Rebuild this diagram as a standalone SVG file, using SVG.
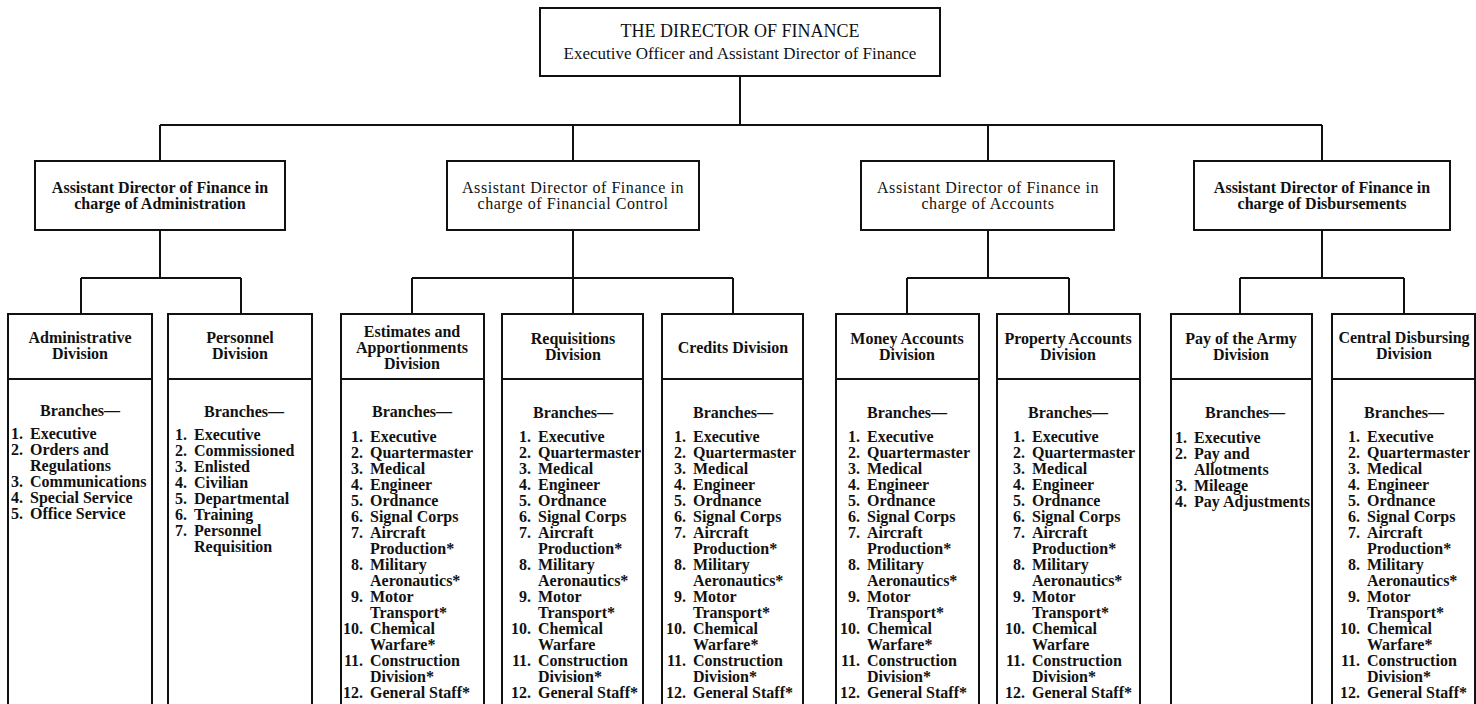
<svg xmlns="http://www.w3.org/2000/svg" width="1476" height="704" viewBox="0 0 1476 704">
  <style>
    .box { fill: #ffffff; stroke: #111111; stroke-width: 2; }
    .rule { stroke: #111111; stroke-width: 2; }
    .wire { fill: none; stroke: #111111; stroke-width: 2; }
    text { font-family: "Liberation Serif", "Times New Roman", serif; fill: #111111; }
    .title { font-size: 18px; text-anchor: middle; }
    .sub { font-size: 17px; text-anchor: middle; }
    .asb { font-size: 16px; font-weight: bold; text-anchor: middle; }
    .asr { font-size: 16px; letter-spacing: 0.55px; text-anchor: middle; }
    .hd { font-size: 16px; font-weight: bold; text-anchor: middle; }
    .num { font-size: 16px; font-weight: bold; text-anchor: end; }
    .it { font-size: 16px; font-weight: bold; }
  </style>
  <rect width="1476" height="704" fill="#ffffff"/>

  <!-- connectors -->
  <g id="connectors">
    <path class="wire" d="M740 76 V125 M160 125 H1322 M160 125 V161 M573 125 V161 M988 125 V161 M1322 125 V160"/>
    <path class="wire" d="M160 230 V278 M81 278 H241 M81 278 V314 M241 278 V314"/>
    <path class="wire" d="M573 230 V278 M412 278 H733 M412 278 V314 M573 278 V314 M733 278 V314"/>
    <path class="wire" d="M988 230 V278 M907 278 H1069 M907 278 V314 M1069 278 V314"/>
    <path class="wire" d="M1322 230 V278 M1240 278 H1404 M1240 278 V314 M1404 278 V314"/>
  </g>

  <!-- top office -->
  <g id="director">
    <rect class="box" x="540" y="8" width="400" height="68"/>
    <text class="title" x="740" y="37">THE DIRECTOR OF FINANCE</text>
    <text class="sub" x="740" y="59">Executive Officer and Assistant Director of Finance</text>
  </g>

  <!-- assistant directors -->
  <g id="asst-administration">
    <rect class="box" x="35" y="161" width="250" height="69"/>
    <text class="asb" x="160" y="193">Assistant Director of Finance in</text>
    <text class="asb" x="160" y="209">charge of Administration</text>
  </g>
  <g id="asst-financial-control">
    <rect class="box" x="447" y="161" width="252" height="69"/>
    <text class="asr" x="573" y="193">Assistant Director of Finance in</text>
    <text class="asr" x="573" y="209">charge of Financial Control</text>
  </g>
  <g id="asst-accounts">
    <rect class="box" x="861" y="161" width="253" height="69"/>
    <text class="asr" x="988" y="193">Assistant Director of Finance in</text>
    <text class="asr" x="988" y="209">charge of Accounts</text>
  </g>
  <g id="asst-disbursements">
    <rect class="box" x="1194" y="161" width="256" height="69"/>
    <text class="asb" x="1322" y="193">Assistant Director of Finance in</text>
    <text class="asb" x="1322" y="209">charge of Disbursements</text>
  </g>

  <!-- divisions -->
  <g id="div-administrative">
    <rect class="box" x="8" y="314" width="144" height="410"/>
    <line class="rule" x1="8" y1="379" x2="152" y2="379"/>
    <text class="hd" x="80" y="343">Administrative</text>
    <text class="hd" x="80" y="359">Division</text>
    <text class="hd" x="80" y="416">Branches—</text>
    <g transform="translate(30,0)">
      <text class="num"><tspan x="-7" y="439">1.</tspan><tspan x="-7" y="455">2.</tspan><tspan x="-7" y="487">3.</tspan><tspan x="-7" y="503">4.</tspan><tspan x="-7" y="519">5.</tspan></text>
      <text class="it"><tspan x="0" y="439">Executive</tspan><tspan x="0" y="455">Orders and</tspan><tspan x="0" y="471">Regulations</tspan><tspan x="0" y="487">Communications</tspan><tspan x="0" y="503">Special Service</tspan><tspan x="0" y="519">Office Service</tspan></text>
    </g>
  </g>

  <g id="div-personnel">
    <rect class="box" x="168" y="314" width="144" height="410"/>
    <line class="rule" x1="168" y1="379" x2="312" y2="379"/>
    <text class="hd" x="240" y="343">Personnel</text>
    <text class="hd" x="240" y="359">Division</text>
    <text class="hd" x="244" y="417">Branches—</text>
    <g transform="translate(194,0)">
      <text class="num"><tspan x="-7" y="440">1.</tspan><tspan x="-7" y="456">2.</tspan><tspan x="-7" y="472">3.</tspan><tspan x="-7" y="488">4.</tspan><tspan x="-7" y="504">5.</tspan><tspan x="-7" y="520">6.</tspan><tspan x="-7" y="536">7.</tspan></text>
      <text class="it"><tspan x="0" y="440">Executive</tspan><tspan x="0" y="456">Commissioned</tspan><tspan x="0" y="472">Enlisted</tspan><tspan x="0" y="488">Civilian</tspan><tspan x="0" y="504">Departmental</tspan><tspan x="0" y="520">Training</tspan><tspan x="0" y="536">Personnel</tspan><tspan x="0" y="552">Requisition</tspan></text>
    </g>
  </g>

  <g id="div-estimates">
    <rect class="box" x="341" y="314" width="143" height="410"/>
    <line class="rule" x1="341" y1="379" x2="484" y2="379"/>
    <text class="hd" x="412" y="337">Estimates and</text>
    <text class="hd" x="412" y="353">Apportionments</text>
    <text class="hd" x="412" y="369">Division</text>
    <text class="hd" x="412" y="417">Branches—</text>
    <g transform="translate(370,0)">
      <text class="num"><tspan x="-7" y="442">1.</tspan><tspan x="-7" y="458">2.</tspan><tspan x="-7" y="474">3.</tspan><tspan x="-7" y="490">4.</tspan><tspan x="-7" y="506">5.</tspan><tspan x="-7" y="522">6.</tspan><tspan x="-7" y="538">7.</tspan><tspan x="-7" y="570">8.</tspan><tspan x="-7" y="602">9.</tspan><tspan x="-7" y="634">10.</tspan><tspan x="-7" y="666">11.</tspan><tspan x="-7" y="698">12.</tspan></text>
      <text class="it"><tspan x="0" y="442">Executive</tspan><tspan x="0" y="458">Quartermaster</tspan><tspan x="0" y="474">Medical</tspan><tspan x="0" y="490">Engineer</tspan><tspan x="0" y="506">Ordnance</tspan><tspan x="0" y="522">Signal Corps</tspan><tspan x="0" y="538">Aircraft</tspan><tspan x="0" y="554">Production*</tspan><tspan x="0" y="570">Military</tspan><tspan x="0" y="586">Aeronautics*</tspan><tspan x="0" y="602">Motor</tspan><tspan x="0" y="618">Transport*</tspan><tspan x="0" y="634">Chemical</tspan><tspan x="0" y="650">Warfare*</tspan><tspan x="0" y="666">Construction</tspan><tspan x="0" y="682">Division*</tspan><tspan x="0" y="698">General Staff*</tspan></text>
    </g>
  </g>

  <g id="div-requisitions">
    <rect class="box" x="502" y="314" width="141" height="410"/>
    <line class="rule" x1="502" y1="379" x2="643" y2="379"/>
    <text class="hd" x="573" y="344">Requisitions</text>
    <text class="hd" x="573" y="360">Division</text>
    <text class="hd" x="573" y="418">Branches—</text>
    <g transform="translate(538,0)">
      <text class="num"><tspan x="-7" y="442">1.</tspan><tspan x="-7" y="458">2.</tspan><tspan x="-7" y="474">3.</tspan><tspan x="-7" y="490">4.</tspan><tspan x="-7" y="506">5.</tspan><tspan x="-7" y="522">6.</tspan><tspan x="-7" y="538">7.</tspan><tspan x="-7" y="570">8.</tspan><tspan x="-7" y="602">9.</tspan><tspan x="-7" y="634">10.</tspan><tspan x="-7" y="666">11.</tspan><tspan x="-7" y="698">12.</tspan></text>
      <text class="it"><tspan x="0" y="442">Executive</tspan><tspan x="0" y="458">Quartermaster</tspan><tspan x="0" y="474">Medical</tspan><tspan x="0" y="490">Engineer</tspan><tspan x="0" y="506">Ordnance</tspan><tspan x="0" y="522">Signal Corps</tspan><tspan x="0" y="538">Aircraft</tspan><tspan x="0" y="554">Production*</tspan><tspan x="0" y="570">Military</tspan><tspan x="0" y="586">Aeronautics*</tspan><tspan x="0" y="602">Motor</tspan><tspan x="0" y="618">Transport*</tspan><tspan x="0" y="634">Chemical</tspan><tspan x="0" y="650">Warfare</tspan><tspan x="0" y="666">Construction</tspan><tspan x="0" y="682">Division*</tspan><tspan x="0" y="698">General Staff*</tspan></text>
    </g>
  </g>

  <g id="div-credits">
    <rect class="box" x="662" y="314" width="141" height="410"/>
    <line class="rule" x1="662" y1="379" x2="803" y2="379"/>
    <text class="hd" x="733" y="353">Credits Division</text>
    <text class="hd" x="733" y="418">Branches—</text>
    <g transform="translate(693,0)">
      <text class="num"><tspan x="-7" y="442">1.</tspan><tspan x="-7" y="458">2.</tspan><tspan x="-7" y="474">3.</tspan><tspan x="-7" y="490">4.</tspan><tspan x="-7" y="506">5.</tspan><tspan x="-7" y="522">6.</tspan><tspan x="-7" y="538">7.</tspan><tspan x="-7" y="570">8.</tspan><tspan x="-7" y="602">9.</tspan><tspan x="-7" y="634">10.</tspan><tspan x="-7" y="666">11.</tspan><tspan x="-7" y="698">12.</tspan></text>
      <text class="it"><tspan x="0" y="442">Executive</tspan><tspan x="0" y="458">Quartermaster</tspan><tspan x="0" y="474">Medical</tspan><tspan x="0" y="490">Engineer</tspan><tspan x="0" y="506">Ordnance</tspan><tspan x="0" y="522">Signal Corps</tspan><tspan x="0" y="538">Aircraft</tspan><tspan x="0" y="554">Production*</tspan><tspan x="0" y="570">Military</tspan><tspan x="0" y="586">Aeronautics*</tspan><tspan x="0" y="602">Motor</tspan><tspan x="0" y="618">Transport*</tspan><tspan x="0" y="634">Chemical</tspan><tspan x="0" y="650">Warfare*</tspan><tspan x="0" y="666">Construction</tspan><tspan x="0" y="682">Division*</tspan><tspan x="0" y="698">General Staff*</tspan></text>
    </g>
  </g>

  <g id="div-money-accounts">
    <rect class="box" x="836" y="314" width="143" height="410"/>
    <line class="rule" x1="836" y1="379" x2="979" y2="379"/>
    <text class="hd" x="907" y="344">Money Accounts</text>
    <text class="hd" x="907" y="360">Division</text>
    <text class="hd" x="907" y="418">Branches—</text>
    <g transform="translate(867,0)">
      <text class="num"><tspan x="-7" y="442">1.</tspan><tspan x="-7" y="458">2.</tspan><tspan x="-7" y="474">3.</tspan><tspan x="-7" y="490">4.</tspan><tspan x="-7" y="506">5.</tspan><tspan x="-7" y="522">6.</tspan><tspan x="-7" y="538">7.</tspan><tspan x="-7" y="570">8.</tspan><tspan x="-7" y="602">9.</tspan><tspan x="-7" y="634">10.</tspan><tspan x="-7" y="666">11.</tspan><tspan x="-7" y="698">12.</tspan></text>
      <text class="it"><tspan x="0" y="442">Executive</tspan><tspan x="0" y="458">Quartermaster</tspan><tspan x="0" y="474">Medical</tspan><tspan x="0" y="490">Engineer</tspan><tspan x="0" y="506">Ordnance</tspan><tspan x="0" y="522">Signal Corps</tspan><tspan x="0" y="538">Aircraft</tspan><tspan x="0" y="554">Production*</tspan><tspan x="0" y="570">Military</tspan><tspan x="0" y="586">Aeronautics*</tspan><tspan x="0" y="602">Motor</tspan><tspan x="0" y="618">Transport*</tspan><tspan x="0" y="634">Chemical</tspan><tspan x="0" y="650">Warfare*</tspan><tspan x="0" y="666">Construction</tspan><tspan x="0" y="682">Division*</tspan><tspan x="0" y="698">General Staff*</tspan></text>
    </g>
  </g>

  <g id="div-property-accounts">
    <rect class="box" x="997" y="314" width="143" height="410"/>
    <line class="rule" x1="997" y1="379" x2="1140" y2="379"/>
    <text class="hd" x="1068" y="344">Property Accounts</text>
    <text class="hd" x="1068" y="360">Division</text>
    <text class="hd" x="1068" y="418">Branches—</text>
    <g transform="translate(1032,0)">
      <text class="num"><tspan x="-7" y="442">1.</tspan><tspan x="-7" y="458">2.</tspan><tspan x="-7" y="474">3.</tspan><tspan x="-7" y="490">4.</tspan><tspan x="-7" y="506">5.</tspan><tspan x="-7" y="522">6.</tspan><tspan x="-7" y="538">7.</tspan><tspan x="-7" y="570">8.</tspan><tspan x="-7" y="602">9.</tspan><tspan x="-7" y="634">10.</tspan><tspan x="-7" y="666">11.</tspan><tspan x="-7" y="698">12.</tspan></text>
      <text class="it"><tspan x="0" y="442">Executive</tspan><tspan x="0" y="458">Quartermaster</tspan><tspan x="0" y="474">Medical</tspan><tspan x="0" y="490">Engineer</tspan><tspan x="0" y="506">Ordnance</tspan><tspan x="0" y="522">Signal Corps</tspan><tspan x="0" y="538">Aircraft</tspan><tspan x="0" y="554">Production*</tspan><tspan x="0" y="570">Military</tspan><tspan x="0" y="586">Aeronautics*</tspan><tspan x="0" y="602">Motor</tspan><tspan x="0" y="618">Transport*</tspan><tspan x="0" y="634">Chemical</tspan><tspan x="0" y="650">Warfare</tspan><tspan x="0" y="666">Construction</tspan><tspan x="0" y="682">Division*</tspan><tspan x="0" y="698">General Staff*</tspan></text>
    </g>
  </g>

  <g id="div-pay-of-the-army">
    <rect class="box" x="1171" y="314" width="141" height="410"/>
    <line class="rule" x1="1171" y1="379" x2="1312" y2="379"/>
    <text class="hd" x="1241" y="344">Pay of the Army</text>
    <text class="hd" x="1241" y="360">Division</text>
    <text class="hd" x="1245" y="418">Branches—</text>
    <g transform="translate(1194,0)">
      <text class="num"><tspan x="-7" y="443">1.</tspan><tspan x="-7" y="459">2.</tspan><tspan x="-7" y="491">3.</tspan><tspan x="-7" y="507">4.</tspan></text>
      <text class="it"><tspan x="0" y="443">Executive</tspan><tspan x="0" y="459">Pay and</tspan><tspan x="0" y="475">Allotments</tspan><tspan x="0" y="491">Mileage</tspan><tspan x="0" y="507">Pay Adjustments</tspan></text>
    </g>
  </g>

  <g id="div-central-disbursing">
    <rect class="box" x="1332" y="314" width="143" height="410"/>
    <line class="rule" x1="1332" y1="379" x2="1475" y2="379"/>
    <text class="hd" x="1404" y="343">Central Disbursing</text>
    <text class="hd" x="1404" y="359">Division</text>
    <text class="hd" x="1404" y="418">Branches—</text>
    <g transform="translate(1367,0)">
      <text class="num"><tspan x="-7" y="442">1.</tspan><tspan x="-7" y="458">2.</tspan><tspan x="-7" y="474">3.</tspan><tspan x="-7" y="490">4.</tspan><tspan x="-7" y="506">5.</tspan><tspan x="-7" y="522">6.</tspan><tspan x="-7" y="538">7.</tspan><tspan x="-7" y="570">8.</tspan><tspan x="-7" y="602">9.</tspan><tspan x="-7" y="634">10.</tspan><tspan x="-7" y="666">11.</tspan><tspan x="-7" y="698">12.</tspan></text>
      <text class="it"><tspan x="0" y="442">Executive</tspan><tspan x="0" y="458">Quartermaster</tspan><tspan x="0" y="474">Medical</tspan><tspan x="0" y="490">Engineer</tspan><tspan x="0" y="506">Ordnance</tspan><tspan x="0" y="522">Signal Corps</tspan><tspan x="0" y="538">Aircraft</tspan><tspan x="0" y="554">Production*</tspan><tspan x="0" y="570">Military</tspan><tspan x="0" y="586">Aeronautics*</tspan><tspan x="0" y="602">Motor</tspan><tspan x="0" y="618">Transport*</tspan><tspan x="0" y="634">Chemical</tspan><tspan x="0" y="650">Warfare*</tspan><tspan x="0" y="666">Construction</tspan><tspan x="0" y="682">Division*</tspan><tspan x="0" y="698">General Staff*</tspan></text>
    </g>
  </g>
</svg>
